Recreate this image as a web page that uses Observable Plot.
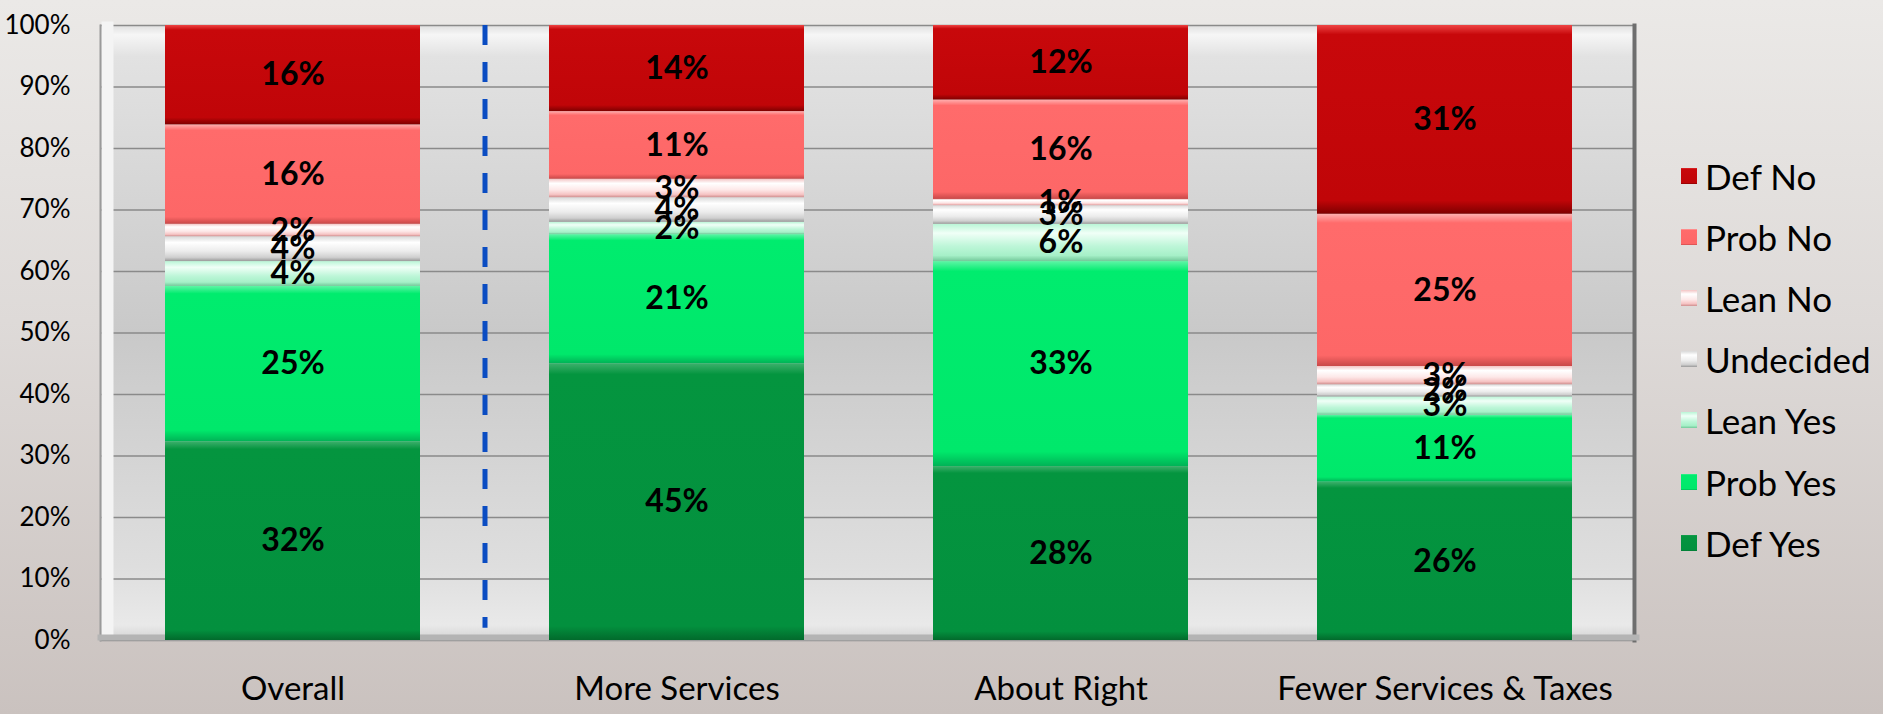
<!DOCTYPE html>
<html><head><meta charset="utf-8">
<script src="https://cdn.jsdelivr.net/npm/d3@7"></script>
<script src="https://cdn.jsdelivr.net/npm/@observablehq/plot@0.6"></script>
<style>
html,body{margin:0;padding:0;}
body{width:1883px;height:714px;overflow:hidden;background:linear-gradient(180deg,#ebe9e7 0%,#dedad8 45%,#cac2bf 100%);font-family:Lato,"Open Sans",sans-serif;}
#wrap{position:relative;width:1883px;height:714px;}
#legend{position:absolute;left:1681px;top:145px;}
.item{display:flex;align-items:center;height:61.2px;font-size:35px;color:#000;white-space:nowrap;}
.sw{width:16px;height:16px;margin-right:8px;flex:none;}
</style></head><body><div id="wrap"></div>
<script>
const categories = ["Overall", "More Services", "About Right", "Fewer Services & Taxes"];
const seriesNames = ["Def Yes", "Prob Yes", "Lean Yes", "Undecided", "Lean No", "Prob No", "Def No"];
const defYes    = [32, 45, 28, 26];
const probYes   = [25, 21, 33, 11];
const leanYes   = [4, 2, 6, 3];
const undecided = [4, 4, 3, 2];
const leanNo    = [2, 3, 1, 3];
const probNo    = [16, 11, 16, 25];
const defNo     = [16, 14, 12, 31];
const yTicks = [0, 10, 20, 30, 40, 50, 60, 70, 80, 90, 100];
const divider = {after: "Overall", top: 100, bottom: 2};

const seriesValues = [defYes, probYes, leanYes, undecided, leanNo, probNo, defNo];
const rows = [];
seriesNames.forEach((s, si) => categories.forEach((c, ci) =>
  rows.push({category: c, series: s, value: seriesValues[si][ci]})));

const grads = [
  [[0,"#3db06c"],[0.04,"#04953f"],[0.95,"#03903e"],[1,"#026a2c"]],
  [[0,"#5ff5a6"],[0.05,"#00ec6e"],[0.93,"#00e86b"],[1,"#00b356"]],
  [[0,"#b9f5d6"],[0.25,"#f0fff7"],[0.6,"#bdf6d8"],[0.85,"#a6f0c8"],[1,"#73c99a"]],
  [[0,"#d8d8d8"],[0.25,"#ffffff"],[0.6,"#ececec"],[0.85,"#cfcfcf"],[1,"#9a9a9a"]],
  [[0,"#f3c4c4"],[0.25,"#ffffff"],[0.6,"#fde8e8"],[0.85,"#f6c4c4"],[1,"#d08f8f"]],
  [[0,"#ffb0b0"],[0.06,"#ff6b6b"],[0.93,"#fd6767"],[1,"#c84848"]],
  [[0,"#ee4444"],[0.05,"#c8080b"],[0.93,"#c00508"],[1,"#7e0000"]]
];

const W = 1883, H = 714, mL = 100, mR = 247, mT = 25, mB = 74;
const step = (W - mL - mR) / categories.length;
const stackOpts = {x: "category", y: "value", z: "series", order: seriesNames, offset: "normalize"};

const chart = Plot.plot({
  width: W, height: H, marginLeft: mL, marginRight: mR, marginTop: mT, marginBottom: mB,
  style: {background: "transparent", fontFamily: "Lato, sans-serif", overflow: "visible", color: "#000"},
  x: {domain: categories, paddingInner: 0.336, paddingOuter: 0.168, label: null},
  y: {domain: [0, 1], label: null},
  color: {domain: seriesNames, range: seriesNames.map((_, i) => `url(#seg${i})`)},
  marks: [
    Plot.frame({fill: "url(#wall)"}),
    Plot.gridY(yTicks.map(v => v / 100), {stroke: "#8a8a8a", strokeOpacity: 1, strokeWidth: 1.5}),
    Plot.frame({anchor: "left", stroke: "#f4f4f4", strokeWidth: 12, dx: 7, insetTop: 2, insetBottom: 7}),
    Plot.frame({anchor: "left", stroke: "#9a9a9a", strokeWidth: 2}),
    Plot.frame({anchor: "right", stroke: "#6e6e6e", strokeWidth: 4, dx: -2}),
    Plot.frame({anchor: "bottom", stroke: "#b4b4b4", strokeWidth: 6, dy: -3}),
    Plot.barY(rows, Plot.stackY({...stackOpts, fill: "series"})),
    Plot.text(rows, Plot.stackY({...stackOpts, text: d => d.value + "%", fontSize: 32, fontWeight: "bold", fill: "#000"})),
    Plot.ruleX([divider], {x: "after", y1: d => d.top / 100, y2: d => d.bottom / 100, dx: step / 2,
      stroke: "#0a4cc2", strokeWidth: 5, strokeDasharray: "20,17"}),
    Plot.axisY({ticks: yTicks.map(v => v / 100), tickFormat: d => Math.round(d * 100) + "%", tickSize: 0, tickPadding: 30, fontSize: 26}),
    Plot.axisX({tickSize: 0, tickPadding: 36, fontSize: 33, label: null})
  ]
});

const svg = d3.select(chart);
const defs = svg.insert("defs", ":first-child");
grads.forEach((stops, i) => {
  const g = defs.append("linearGradient").attr("id", `seg${i}`)
    .attr("x1", 0).attr("y1", 0).attr("x2", 0).attr("y2", 1);
  stops.forEach(([o, c]) => g.append("stop").attr("offset", o).attr("stop-color", c));
});
const wall = defs.append("linearGradient").attr("id", "wall")
  .attr("x1", 0).attr("y1", 0).attr("x2", 0).attr("y2", 1);
[[0,"#e0e0e0"],[0.015,"#f6f6f6"],[0.05,"#e2e2e2"],[0.5,"#c9c9c9"],[0.88,"#dedede"],[0.975,"#e9e9e9"],[1,"#d2d2d2"]]
  .forEach(([o, c]) => wall.append("stop").attr("offset", o).attr("stop-color", c));

const wrap = document.getElementById("wrap");
wrap.appendChild(chart);

const legend = document.createElement("div");
legend.id = "legend";
seriesNames.slice().reverse().forEach(name => {
  const i = seriesNames.indexOf(name);
  const item = document.createElement("div");
  item.className = "item";
  const sw = document.createElement("span");
  sw.className = "sw";
  sw.style.background = `linear-gradient(180deg, ${grads[i].map(([o, c]) => c + " " + (o * 100) + "%").join(", ")})`;
  const label = document.createElement("span");
  label.textContent = name;
  item.appendChild(sw);
  item.appendChild(label);
  legend.appendChild(item);
});
wrap.appendChild(legend);
</script>
</body></html>
